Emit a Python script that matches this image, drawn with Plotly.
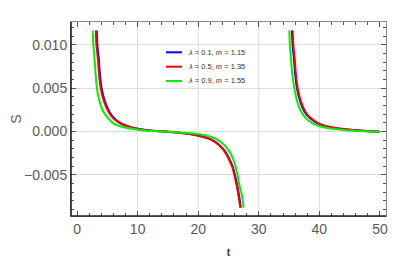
import plotly.graph_objects as go

# ---------------- data ----------------
SERIES_NAMES = ["λ = 0.1, m = 1.15", "λ = 0.5, m = 1.35", "λ = 0.9, m = 1.55"]
LEGEND_LABELS = ["<i>λ</i> = 0.1, <i>m</i> = 1.15",
                 "<i>λ</i> = 0.5, <i>m</i> = 1.35",
                 "<i>λ</i> = 0.9, <i>m</i> = 1.55"]
COLORS = ["#0000ff", "#ff0000", "#00f000"]

# blue: lambda = 0.1, m = 1.15
T_BLUE = [3.24, 3.35, 3.57, 3.79, 4.06, 4.61, 5.33, 6.15, 7.26, 8.64, 10.29, 12.0, 14.0, 16.0, 18.0,
          20.0, 22.1, 23.2, 24.3, 25.1, 25.7, 26.2, 26.6, 26.9, 27.04,
          None,
          35.47, 35.58, 35.80, 36.02, 36.30, 36.85, 37.55, 38.48, 39.72, 41.36, 43.8, 47.6, 50.0]
S_BLUE = [0.01164, 0.00999, 0.00845, 0.00652, 0.00498, 0.00344, 0.00229, 0.00152, 0.00094, 0.00056,
          0.00029, 0.00013, 0.00002, -0.00008, -0.00022, -0.00046, -0.00090, -0.00137, -0.00214,
          -0.00310, -0.00406, -0.00540, -0.00676, -0.00810, -0.00876,
          None,
          0.01164, 0.00999, 0.00845, 0.00652, 0.00498, 0.00344, 0.00229, 0.00152, 0.00094, 0.00056,
          0.00029, 0.00006, -0.00001]

# red: lambda = 0.5, m = 1.35
T_RED = [3.09, 3.20, 3.42, 3.64, 3.91, 4.46, 5.18, 6.00, 7.11, 8.49, 10.14, 12.0, 14.0, 16.0, 18.0,
         20.0, 22.0, 23.1, 24.2, 25.0, 25.6, 26.1, 26.5, 26.8, 26.94,
         None,
         35.59, 35.70, 35.92, 36.14, 36.42, 36.97, 37.68, 38.62, 39.88, 41.54, 44.02, 47.88, 50.0]
S_RED = [0.01164, 0.00999, 0.00845, 0.00652, 0.00498, 0.00344, 0.00229, 0.00152, 0.00094, 0.00056,
         0.00029, 0.00013, 0.00003, -0.00008, -0.00024, -0.00050, -0.00090, -0.00137, -0.00214,
         -0.00310, -0.00406, -0.00540, -0.00676, -0.00810, -0.00876,
         None,
         0.01164, 0.00999, 0.00845, 0.00652, 0.00498, 0.00344, 0.00229, 0.00152, 0.00094, 0.00056,
         0.00029, 0.00006, -0.00001]

# green: lambda = 0.9, m = 1.55
T_GREEN = [2.59, 2.70, 2.88, 3.08, 3.28, 3.72, 4.35, 5.15, 6.00, 7.39, 9.3, 11.0, 13.0, 15.0, 17.0,
           19.0, 20.0, 22.0, 23.1, 24.2, 25.0, 25.6, 26.1, 26.5, 26.8, 27.2, 27.5,
           None,
           35.04, 35.13, 35.30, 35.55, 35.87, 36.35, 37.0, 37.8, 38.9, 40.3, 42.6, 46.2, 50.0]
S_GREEN = [0.01164, 0.00999, 0.00845, 0.00652, 0.00498, 0.00344, 0.00229, 0.00152, 0.00094, 0.00056,
           0.00029, 0.00012, 0.00004, -0.00003, -0.00010, -0.00020, -0.00029, -0.00060, -0.00090,
           -0.00148, -0.00214, -0.00290, -0.00387, -0.00502, -0.00618, -0.00733, -0.00876,
           None,
           0.01164, 0.00999, 0.00845, 0.00652, 0.00498, 0.00344, 0.00229, 0.00152, 0.00094, 0.00056,
           0.00029, 0.00006, -0.00001]

X_RANGE = [-1, 51]
Y_RANGE = [-0.00973, 0.01262]
GRID_X = [10, 20, 30, 40]

# ---------------- figure ----------------
fig = go.Figure()
for name, t, s, c in zip(SERIES_NAMES, [T_BLUE, T_RED, T_GREEN], [S_BLUE, S_RED, S_GREEN], COLORS):
    fig.add_trace(go.Scatter(x=t, y=s, mode="lines", name=name, showlegend=False,
                             connectgaps=False,
                             line=dict(color=c, width=2, shape="spline", smoothing=0.8)))

tickfont = dict(family="Liberation Sans, Arial, sans-serif", size=14, color="#5a5a5a")

# the page body adds an 8 px margin, so the figure is 8 px smaller than the window
fig.update_layout(
    width=401, height=251,
    margin=dict(l=63, r=23, t=14, b=43),
    paper_bgcolor="white", plot_bgcolor="white",
    xaxis=dict(range=X_RANGE, tickmode="linear", tick0=0, dtick=10, automargin=False,
               ticks="inside", ticklen=5, tickwidth=1, tickcolor="#555",
               minor=dict(tickmode="linear", tick0=0, dtick=2, ticks="inside", ticklen=3,
                          tickwidth=1, tickcolor="#555", showgrid=False),
               showline=True, linecolor="#888", linewidth=1, mirror="allticks",
               showgrid=False, zeroline=False, tickfont=tickfont,
               title=dict(text="<b>t</b>", standoff=11,
                          font=dict(family="Liberation Serif, serif", size=12, color="#444"))),
    yaxis=dict(range=Y_RANGE, tickmode="linear", tick0=0, dtick=0.005, tickformat=".3f",
               automargin=False,
               ticks="inside", ticklen=5, tickwidth=1, tickcolor="#555",
               minor=dict(tickmode="linear", tick0=0, dtick=0.001, ticks="inside", ticklen=3,
                          tickwidth=1, tickcolor="#555", showgrid=False),
               showline=True, linecolor="#888", linewidth=1, mirror="allticks",
               showgrid=True, gridcolor="#dcdcdc", gridwidth=1, zeroline=False,
               tickfont=tickfont,
               title=dict(text="S", standoff=2,
                          font=dict(family="Liberation Sans, Arial, sans-serif", size=14,
                                    color="#5a5a5a"))),
)

# vertical grid lines (only at interior major ticks, as in the reference)
for gx in GRID_X:
    fig.add_shape(type="line", xref="x", yref="paper", x0=gx, x1=gx, y0=0, y1=1,
                  line=dict(color="#dcdcdc", width=1), layer="below")

# darker left and bottom frame edges
fig.add_shape(type="line", xref="paper", yref="paper", x0=0, x1=0, y0=0, y1=1,
              line=dict(color="#222", width=1.6), layer="above")
fig.add_shape(type="line", xref="paper", yref="paper", x0=0, x1=1, y0=0, y1=0,
              line=dict(color="#222", width=1.6), layer="above")

# in-plot legend
LEG_X0, LEG_X1, LEG_TX = 0.3016, 0.3524, 0.365
LEG_Y = [0.8438, 0.7696, 0.6959]
for lab, c, ly in zip(LEGEND_LABELS, COLORS, LEG_Y):
    fig.add_shape(type="line", xref="paper", yref="paper", x0=LEG_X0, x1=LEG_X1, y0=ly, y1=ly,
                  line=dict(color=c, width=2))
    fig.add_annotation(xref="paper", yref="paper", x=LEG_TX, y=ly, text=lab, showarrow=False,
                       xanchor="left", yanchor="middle",
                       font=dict(family="Liberation Sans, Arial, sans-serif", size=7.5,
                                 color="#333"))

fig.write_html("out.html")
